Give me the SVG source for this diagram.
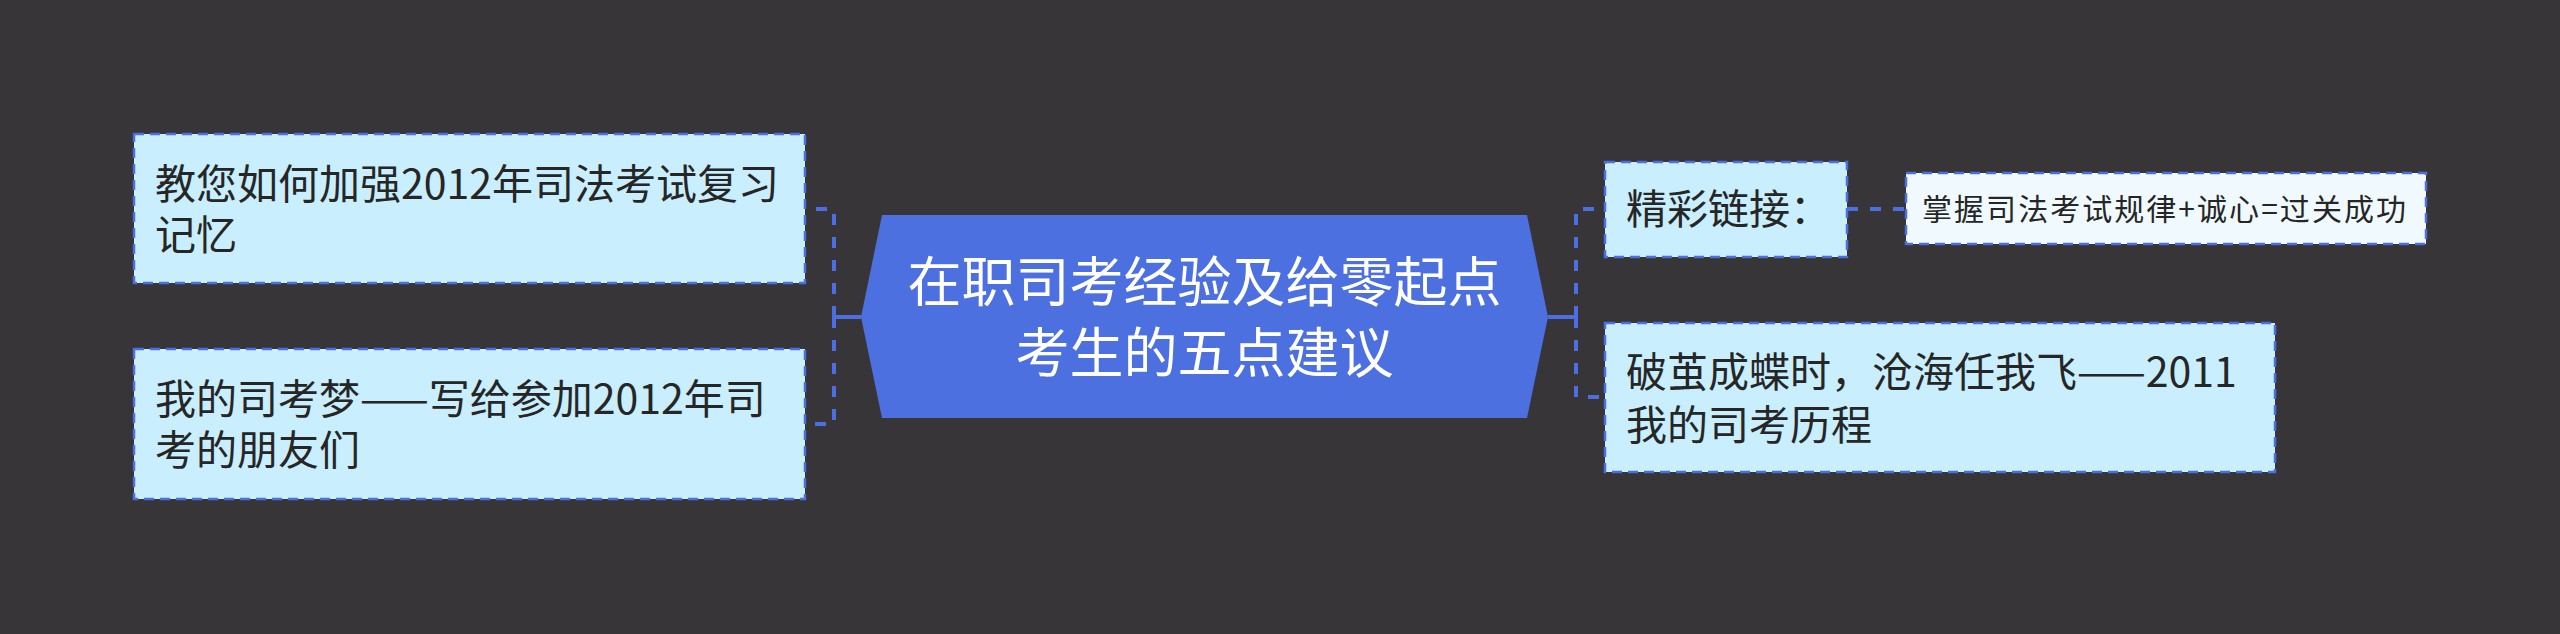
<svg xmlns="http://www.w3.org/2000/svg" width="2560" height="634" viewBox="0 0 2560 634">
<style>
.bg{fill:#373537}
.box{fill:#C9EEFD;stroke:#4B6FE2;stroke-width:2.5;stroke-dasharray:10 6}
.box2{fill:#F0FAFE;stroke:#4B6FE2;stroke-width:2.5;stroke-dasharray:10 6}
.t{font-family:"Noto Sans CJK SC","Noto Sans",sans-serif;fill:#262626;font-size:41px}
.ts{font-family:"Noto Sans CJK SC","Noto Sans",sans-serif;fill:#262626;font-size:30px}
.tc{font-family:"Noto Sans CJK SC","Noto Sans",sans-serif;fill:#FFFFFF;font-size:54px;text-anchor:middle}
.solid{fill:none;stroke:#4B6FE2;stroke-width:4}
.dash{fill:none;stroke:#4B6FE2;stroke-width:4;stroke-dasharray:11 12}
</style>
<rect class="bg" x="0" y="0" width="2560" height="634"/>
<g id="connectors">
<path class="solid" d="M861 317 H834"/>
<path class="dash" d="M834 317 V209 H805"/>
<path class="dash" d="M834 317 V424 H805"/>
<path class="solid" d="M1548 317 H1576"/>
<path class="dash" d="M1576 317 V209 H1605"/>
<path class="dash" d="M1576 317 V397 H1605"/>
<path class="dash" d="M1847 209 H1906"/>
</g>
<g id="center">
<polygon points="882,215 1527,215 1548,317 1527,418 882,418 861,317" fill="#4C70E0"/>
<text class="tc" x="1204.5" y="302">在职司考经验及给零起点</text>
<text class="tc" x="1204.5" y="373">考生的五点建议</text>
</g>
<g id="node-left1">
<rect class="box" x="134" y="134" width="671" height="149"/>
<text class="t" x="155" y="199">教您如何加强2012年司法考试复习</text>
<text class="t" x="155" y="250">记忆</text>
</g>
<g id="node-left2">
<rect class="box" x="134" y="349" width="671" height="150"/>
<text class="t" x="155" y="414">我的司考梦——写给参加2012年司</text>
<text class="t" x="155" y="465">考的朋友们</text>
</g>
<g id="node-right1">
<rect class="box" x="1605" y="162" width="242" height="95"/>
<text class="t" x="1626" y="224">精彩链接：</text>
</g>
<g id="node-right1-child">
<rect class="box2" x="1906" y="173" width="520" height="71"/>
<text class="ts" x="1922" y="220" textLength="484" lengthAdjust="spacing">掌握司法考试规律+诚心=过关成功</text>
</g>
<g id="node-right2">
<rect class="box" x="1605" y="323" width="670" height="149"/>
<text class="t" x="1626" y="387">破茧成蝶时，沧海任我飞——2011</text>
<text class="t" x="1626" y="440">我的司考历程</text>
</g>
</svg>
